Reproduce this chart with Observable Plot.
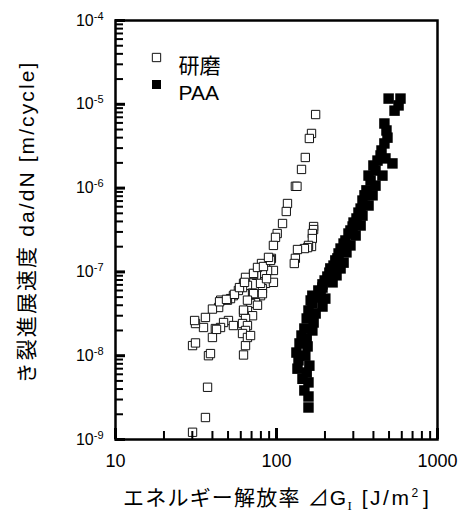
<!DOCTYPE html>
<html><head><meta charset="utf-8">
<script src="https://cdn.jsdelivr.net/npm/d3@7"></script>
<script src="https://cdn.jsdelivr.net/npm/@observablehq/plot@0.6"></script>
<style>body{margin:0;background:#fff} #chart svg{display:block}</style>
</head><body><div id="chart"></div>
<script>
const FONT = '"Liberation Sans", Arial, "Noto Sans CJK JP", sans-serif';
const seriesNames = ["研磨", "PAA"];

// 研磨 (open squares): energy release rate [J/m2], da/dN [m/cycle]
const openX = [175,165,160,151,143,131,134,117,115,109,101,98.6,95.7,93,
  170,170,167,167,165,158,156,149,135,131,129,
  91.8,85.5,80.7,95.7,88,81.8,75,72,64.2,62.4,66,61.5,58,85.5,95.7,81.8,76.2,71,79.6,54,51.8,49.6,45,43.7,40,74,69,66,62.4,76.2,71,64.2,61.5,66,50.3,46.9,44.9,41.7,36.2,35.2,31.4,31,64.2,61.5,40,30.1,31.4,37.8,38.9,64.2,62.4,66,69,37.3,36.2,30.1,
  42.4,54,44.3,48.9,54.8,58.9,63.3,72,76.2,83,91.8,81.8,72,79.6,89.2,86.7,66,62.4];
const openY = [7.55e-6,4.49e-6,3.91e-6,2.32e-6,1.67e-6,1.05e-6,1.05e-6,6.55e-7,5.26e-7,3.78e-7,2.87e-7,2.58e-7,2.07e-7,1.45e-7,
  3.48e-7,3.2e-7,2.87e-7,2.5e-7,2.01e-7,2.07e-7,1.95e-7,1.9e-7,1.85e-7,1.45e-7,1.26e-7,
  1.4e-7,1.19e-7,1.26e-7,1.04e-7,1.04e-7,9.6e-8,9.1e-8,9.3e-8,8.6e-8,7.3e-8,6.9e-8,6.5e-8,6.0e-8,7.3e-8,7.5e-8,6.3e-8,5.2e-8,5.6e-8,5.2e-8,5.2e-8,4.8e-8,4.6e-8,4.6e-8,3.76e-8,3.6e-8,4.3e-8,4.2e-8,3.46e-8,3.28e-8,4.0e-8,3.0e-8,2.78e-8,2.42e-8,2.29e-8,2.63e-8,2.49e-8,2.17e-8,2.11e-8,2.86e-8,2.17e-8,2.42e-8,2.63e-8,2.0e-8,1.84e-8,1.65e-8,1.32e-8,1.42e-8,1.0e-8,1.06e-8,1.32e-8,1.02e-8,1.65e-8,1.74e-8,4.2e-9,1.83e-9,1.22e-9,
  2.06e-8,2.29e-8,4.4e-8,4.7e-8,5.4e-8,6.5e-8,7.5e-8,9.6e-8,1.13e-7,1.16e-7,1.37e-7,5.5e-8,5.5e-8,7.3e-8,1.49e-7,8.3e-8,4.6e-8,3.5e-8];

// PAA (filled squares)
const paaX = [497,589,541,573,468,489,449,525,424,412,455,384,412,362,395,342,373,323,342,301,333,288,310,268,288,250,272,239,261,226,250,213,236,199,223,193,167,188,201,167,193,158,175,154,170,149,167,143,154,139,156,133,151,137,160,135,154,145,158,149,158,158,
  482,468,443,475,400,373,352,333,314,297,280,261,243,232,216,207,193,182,177,163];
const paaY = [1.17e-5,1.17e-5,8.4e-6,9.7e-6,5.9e-6,4.0e-6,2.81e-6,1.97e-6,2.13e-6,1.62e-6,1.41e-6,1.23e-6,1.07e-6,9.4e-7,8.2e-7,7.1e-7,6.2e-7,5.1e-7,4.7e-7,3.88e-7,3.58e-7,3.12e-7,2.72e-7,2.37e-7,2.07e-7,1.9e-7,1.71e-7,1.45e-7,1.29e-7,1.19e-7,1.1e-7,9.8e-8,9.1e-8,7.9e-8,7.5e-8,6.5e-8,5.2e-8,5.5e-8,4.8e-8,4.2e-8,3.86e-8,3.46e-8,3.19e-8,2.78e-8,2.49e-8,2.11e-8,2.0e-8,1.74e-8,1.6e-8,1.4e-8,1.29e-8,1.09e-8,1.0e-8,8.8e-9,7.6e-9,7.0e-9,6.3e-9,5.3e-9,4.8e-9,3.85e-9,3.26e-9,2.41e-9,
  4.87e-6,3.41e-6,2.45e-6,2.26e-6,1.86e-6,1.41e-6,8.2e-7,5.7e-7,4.34e-7,3.48e-7,2.87e-7,2.18e-7,1.66e-7,1.37e-7,1.1e-7,8.8e-8,7.1e-8,6.0e-8,4.95e-8,4.56e-8];

const xMajor = [10, 100, 1000];
const xMinor = [20,30,40,50,60,70,80,90,200,300,400,500,600,700,800,900];
const yMajor = [1e-9,1e-8,1e-7,1e-6,1e-5,1e-4];
const yExp = ["-9","-8","-7","-6","-5","-4"];
const yMinor = [2e-9,3e-9,4e-9,5e-9,6e-9,7e-9,8e-9,9e-9,2e-8,3e-8,4e-8,5e-8,6e-8,7e-8,8e-8,9e-8,2e-7,3e-7,4e-7,5e-7,6e-7,7e-7,8e-7,9e-7,2e-6,3e-6,4e-6,5e-6,6e-6,7e-6,8e-6,9e-6,2e-5,3e-5,4e-5,5e-5,6e-5,7e-5,8e-5,9e-5];

const xTitleMain = "エネルギー解放率 ⊿G";
const xTitleSub = "I";
const xTitleUnit = "[J/m";
const yTitle = "き裂進展速度 da/dN [m/cycle]";

const openData = openX.map((x, i) => ({x, y: openY[i]}));
const paaData = paaX.map((x, i) => ({x, y: paaY[i]}));

const W = 469, H = 515, mL = 115, mR = 32, mT = 20, mB = 76;
const fw = W - mL - mR, fh = H - mT - mB;

const chart = Plot.plot({
  width: W, height: H,
  marginLeft: mL, marginRight: mR, marginTop: mT, marginBottom: mB,
  style: {fontFamily: FONT, color: "black", background: "white"},
  x: {type: "log", domain: [10, 1000], label: null},
  y: {type: "log", domain: [1e-9, 1e-4], label: null},
  marks: [
    Plot.dot(openData, {x: "x", y: "y", symbol: "square", r: 4.7, fill: "white", stroke: "#111", strokeWidth: 1}),
    Plot.dot(paaData, {x: "x", y: "y", symbol: "square", r: 5.9, fill: "black"}),
    Plot.frame({stroke: "black", strokeWidth: 2.5}),
    Plot.tickX(xMinor, {x: d => d, insetTop: fh - 8, stroke: "black", strokeWidth: 2}),
    Plot.tickX(xMajor, {x: d => d, insetTop: fh - 11, stroke: "black", strokeWidth: 3}),
    Plot.tickY(yMinor, {y: d => d, insetRight: fw - 8, stroke: "black", strokeWidth: 2}),
    Plot.tickY(yMajor, {y: d => d, insetRight: fw - 10, stroke: "black", strokeWidth: 3}),
    Plot.axisX(xMajor, {tickSize: 0, tickPadding: 15, fontSize: 18, tickFormat: d => String(d), label: null}),
    Plot.axisY(yMajor, {tickSize: 0, tickPadding: 12, fontSize: 16, tickFormat: d => "10^" + yExp[yMajor.indexOf(d)], label: null}),
    Plot.dot([seriesNames[0]], {frameAnchor: "top-left", dx: 41, dy: 37, symbol: "square", r: 4.7, fill: "white", stroke: "#111", strokeWidth: 1}),
    Plot.dot([seriesNames[1]], {frameAnchor: "top-left", dx: 41, dy: 64, symbol: "square", r: 5.1, fill: "black"}),
    Plot.text([seriesNames[0]], {text: d => d, frameAnchor: "top-left", dx: 63, dy: 38, textAnchor: "start", fontSize: 21}),
    Plot.text([seriesNames[1]], {text: d => d, frameAnchor: "top-left", dx: 63, dy: 65, textAnchor: "start", fontSize: 21})
  ]
});

const svg = d3.select(chart);
svg.selectAll('g[aria-label="y-axis tick label"] text').each(function() {
  const t = this.textContent;
  if (!t.includes("^")) return;
  const [b, e] = t.split("^");
  const s = d3.select(this);
  s.text("");
  s.append("tspan").text(b);
  s.append("tspan").attr("dy", "-0.55em").attr("font-size", 11).text(e);
});

const cx = (mL + W - mR) / 2;
const xt = svg.append("text")
  .attr("x", cx).attr("y", 505)
  .attr("text-anchor", "middle")
  .attr("font-family", FONT).attr("font-size", 21).attr("fill", "black");
xt.append("tspan").attr("letter-spacing", 1.2).text(xTitleMain);
xt.append("tspan").attr("dy", 5).attr("font-size", 13).attr("font-family", '"Liberation Serif", serif').text(xTitleSub);
xt.append("tspan").attr("dy", -5).attr("dx", 10).attr("letter-spacing", 2.5).text(xTitleUnit);
xt.append("tspan").attr("dy", -8).attr("font-size", 12).text("2");
xt.append("tspan").attr("dy", 8).attr("dx", 5).text("]");

svg.append("text")
  .attr("transform", `translate(27,222) rotate(-90)`)
  .attr("text-anchor", "middle").attr("dy", "0.35em")
  .attr("font-family", FONT).attr("font-size", 21).attr("letter-spacing", 2.1)
  .attr("fill", "black")
  .text(yTitle);

document.getElementById("chart").append(chart);
</script>
</body></html>
